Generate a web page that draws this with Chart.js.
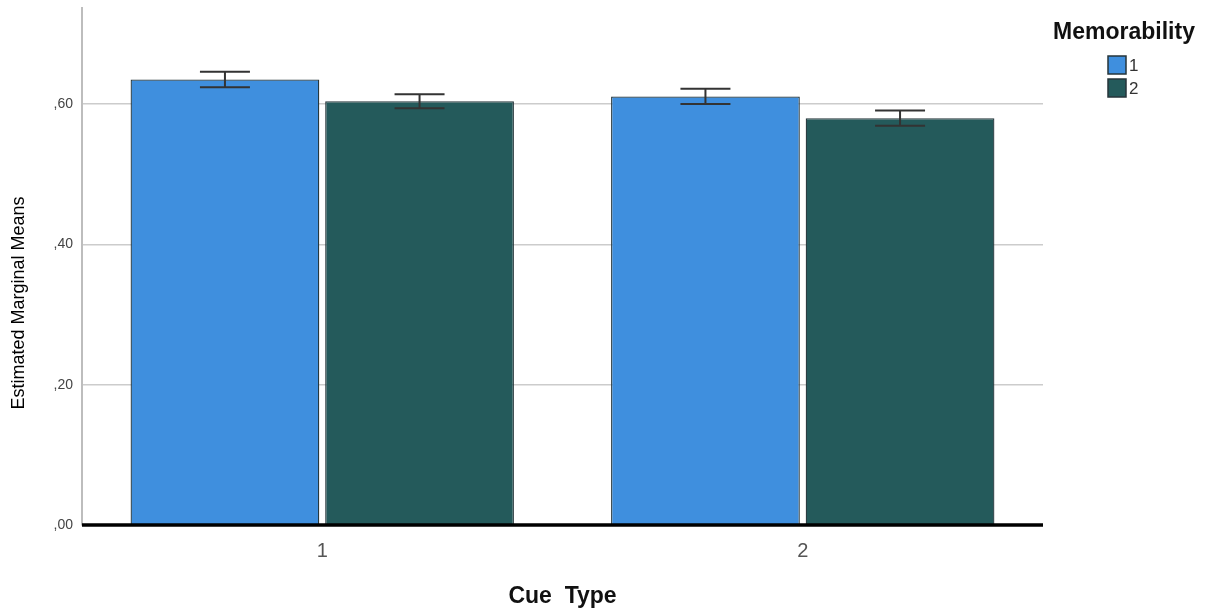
<!DOCTYPE html>
<html>
<head>
<meta charset="utf-8">
<title>Estimated Marginal Means by Cue Type</title>
<script src="https://cdn.jsdelivr.net/npm/chart.js@4/dist/chart.umd.min.js"></script>
<style>
  html, body { margin: 0; padding: 0; background: #ffffff; }
  canvas { display: block; }
</style>
</head>
<body>
<canvas id="emm" width="1206" height="610"></canvas>
<script>
// Cue Type categories on the x axis
const cueTypes = ['1', '2'];
// Memorability groups
const memorabilityLevels = ['1', '2'];
// Estimated marginal means per memorability group (one value per cue type)
const meansMem1 = [0.635, 0.611];
const meansMem2 = [0.604, 0.580];
// Half-width of the error bars per memorability group
const errMem1 = [0.011, 0.011];
const errMem2 = [0.010, 0.011];
// Y axis tick values
const yTickValues = [0, 0.2, 0.4, 0.6];

const barColors = ['#3f8fde', '#245a5b'];
const barBorder = '#26363b';
const FONT = '"Liberation Sans", Arial, sans-serif';

// Comma-decimal labels without leading zero: ,60
function spssLabel(v) {
  return ',' + Math.round(v * 100).toString().padStart(2, '0');
}

// Error bars with caps and the heavy zero baseline, drawn through the scales
const errorBarPlugin = {
  id: 'errorBars',
  afterDatasetsDraw(chart) {
    const ctx = chart.ctx;
    const y = chart.scales.y;
    const errs = [errMem1, errMem2];
    ctx.save();
    ctx.strokeStyle = '#333333';
    ctx.lineWidth = 2;
    chart.data.datasets.forEach((ds, di) => {
      const meta = chart.getDatasetMeta(di);
      meta.data.forEach((bar, i) => {
        const v = ds.data[i];
        const e = errs[di][i];
        const yTop = y.getPixelForValue(v + e);
        const yBot = y.getPixelForValue(v - e);
        const cx = bar.x;
        const half = 25;
        ctx.beginPath();
        ctx.moveTo(cx, yTop); ctx.lineTo(cx, yBot);
        ctx.moveTo(cx - half, yTop); ctx.lineTo(cx + half, yTop);
        ctx.moveTo(cx - half, yBot); ctx.lineTo(cx + half, yBot);
        ctx.stroke();
      });
    });
    const area = chart.chartArea;
    const y0 = y.getPixelForValue(0);
    ctx.strokeStyle = '#000000';
    ctx.lineWidth = 3.5;
    ctx.beginPath();
    ctx.moveTo(area.left, y0);
    ctx.lineTo(area.right, y0);
    ctx.stroke();
    ctx.restore();
  }
};

// Vertical axis title, centred on the page height
const yTitlePlugin = {
  id: 'yTitle',
  afterDraw(chart) {
    const ctx = chart.ctx;
    ctx.save();
    ctx.translate(19, 303);
    ctx.rotate(-Math.PI / 2);
    ctx.fillStyle = '#000000';
    ctx.font = '18px ' + FONT;
    ctx.textAlign = 'center';
    ctx.textBaseline = 'middle';
    ctx.fillText('Estimated Marginal Means', 0, 0);
    ctx.restore();
  }
};

// Legend with title on the right side
const sideLegendPlugin = {
  id: 'sideLegend',
  afterDraw(chart) {
    const ctx = chart.ctx;
    ctx.save();
    ctx.fillStyle = '#111111';
    ctx.font = 'bold 23px ' + FONT;
    ctx.textAlign = 'center';
    ctx.textBaseline = 'middle';
    ctx.fillText('Memorability', 1124, 33);
    ctx.textAlign = 'left';
    ctx.font = '17px ' + FONT;
    chart.data.datasets.forEach((ds, i) => {
      const top = 56 + i * 23;
      ctx.fillStyle = ds.backgroundColor;
      ctx.fillRect(1108, top, 18, 18);
      ctx.strokeStyle = '#26353a';
      ctx.lineWidth = 1.5;
      ctx.strokeRect(1108, top, 18, 18);
      ctx.fillStyle = '#333333';
      ctx.fillText(ds.label, 1129, top + 10);
    });
    ctx.restore();
  }
};

new Chart(document.getElementById('emm'), {
  type: 'bar',
  data: {
    labels: cueTypes,
    datasets: [
      {
        label: memorabilityLevels[0],
        data: meansMem1,
        backgroundColor: barColors[0],
        borderColor: barBorder,
        borderWidth: 1.3
      },
      {
        label: memorabilityLevels[1],
        data: meansMem2,
        backgroundColor: barColors[1],
        borderColor: barBorder,
        borderWidth: 1.3
      }
    ]
  },
  options: {
    responsive: false,
    animation: false,
    events: [],
    layout: { padding: { left: 0, top: 8, right: 163, bottom: 0 } },
    datasets: {
      bar: { categoryPercentage: 0.81, barPercentage: 0.97 }
    },
    plugins: {
      legend: { display: false },
      tooltip: { enabled: false }
    },
    scales: {
      x: {
        grid: { display: false, drawTicks: false },
        border: { display: false },
        ticks: {
          color: '#555555',
          font: { family: FONT, size: 20 },
          padding: 14
        },
        title: {
          display: true,
          text: 'Cue  Type',
          color: '#111111',
          font: { family: FONT, size: 23, weight: 'bold' },
          padding: { top: 18, bottom: 0 }
        },
        afterFit(scale) { scale.height = 85; }
      },
      y: {
        min: 0,
        max: 0.737,
        afterBuildTicks(scale) {
          scale.ticks = yTickValues.map(v => ({ value: v }));
        },
        grid: {
          color: '#cccccc',
          lineWidth: 1.5,
          drawTicks: false
        },
        border: { display: true, color: '#bdbdbd', width: 2 },
        ticks: {
          color: '#444444',
          font: { family: FONT, size: 14 },
          padding: 9,
          callback: (v) => spssLabel(v)
        },
        afterFit(scale) {
          scale.width = 82;
          scale.paddingTop = 0;
          scale.paddingBottom = 0;
        }
      }
    }
  },
  plugins: [errorBarPlugin, yTitlePlugin, sideLegendPlugin]
});
</script>
</body>
</html>
